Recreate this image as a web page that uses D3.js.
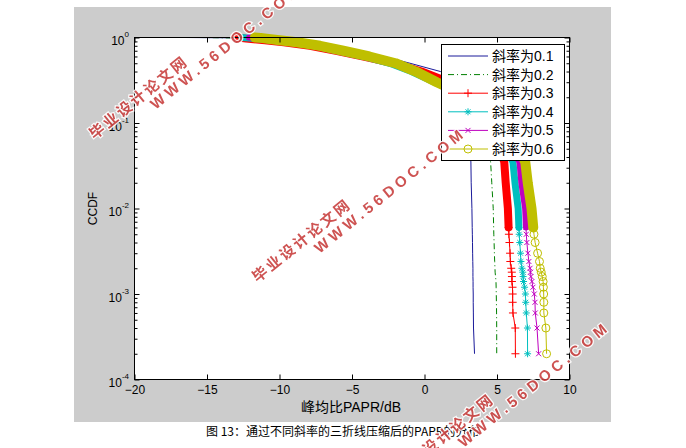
<!DOCTYPE html>
<html>
<head>
<meta charset="utf-8">
<script src="https://cdn.jsdelivr.net/npm/d3@7"></script>
<style>
  body { margin: 0; background: #fff; }
  svg { display: block; }
</style>
</head>
<body>
<div id="chart"></div>
<script>
// CCDF levels shared by every curve (the tail is k/5000)
const ccdfLevels = [1, 0.99, 0.97, 0.93, 0.88, 0.8, 0.7, 0.6, 0.5, 0.4, 0.3, 0.2, 0.1, 0.05, 0.035,
  0.02, 0.01, 0.006, 0.005, 0.004, 0.003, 0.0024, 0.002, 0.0018, 0.0016, 0.0014, 0.0012,
  0.001, 0.0008, 0.0006, 0.0004, 0.0002];

// PAPR (dB) at each CCDF level, one array per slope
const paprSlope01 = [-16.5, -13.0, -11.5, -10.0, -8.7, -7.0, -5.0, -2.8, -1.0, 1.1, 2.0, 2.6, 3.0, 3.12, 3.2,
  3.22, 3.27, 3.29, 3.3, 3.31, 3.32, 3.33, 3.34, 3.34, 3.34, 3.35, 3.35, 3.36, 3.36, 3.37, 3.38, 3.45];
const paprSlope02 = [-15.5, -13.5, -12.3, -10.8, -9.5, -7.7, -5.9, -4.0, -2.2, -0.6, 1.3, 3.0, 4.0, 4.4, 4.56,
  4.64, 4.74, 4.77, 4.78, 4.8, 4.82, 4.84, 4.86, 4.87, 4.9, 4.93, 4.94, 4.95, 4.96, 4.97, 4.98, 4.98];
const paprSlope03 = [-12.9, -12.7, -12.3, -11.0, -9.7, -7.9, -6.1, -4.2, -2.1, -0.2, 1.7, 3.2, 4.5, 5.2, 5.5,
  5.6, 5.75, 5.8, 5.82, 5.86, 5.9, 5.92, 5.98, 6.02, 6.03, 6.03, 6.07, 6.08, 6.08, 6.1, 6.26, 6.27];
const paprSlope04 = [-12.6, -12.3, -11.6, -10.5, -9.2, -7.6, -6.0, -4.2, -2.4, -0.9, 0.7, 2.8, 4.8, 5.7, 6.1,
  6.24, 6.46, 6.51, 6.53, 6.57, 6.62, 6.65, 6.72, 6.78, 6.8, 6.83, 6.9, 6.96, 6.98, 7.02, 7.1, 7.11];
const paprSlope05 = [-12.1, -11.8, -11.2, -10.2, -9.0, -7.4, -5.8, -4.0, -2.2, -0.8, 0.8, 3.0, 5.0, 6.0, 6.55,
  6.68, 6.94, 7.0, 7.02, 7.06, 7.13, 7.2, 7.28, 7.31, 7.34, 7.41, 7.48, 7.57, 7.62, 7.64, 7.76, 7.87];
const paprSlope06 = [-11.7, -11.3, -10.9, -10.0, -8.8, -7.2, -5.6, -3.8, -2.0, -0.6, 0.85, 3.1, 5.2, 6.5, 6.95,
  7.12, 7.38, 7.5, 7.55, 7.63, 7.8, 7.93, 7.98, 8.05, 8.12, 8.18, 8.2, 8.22, 8.23, 8.23, 8.37, 8.42];

const seriesNames = ["斜率为0.1", "斜率为0.2", "斜率为0.3", "斜率为0.4", "斜率为0.5", "斜率为0.6"];
const seriesValues = [paprSlope01, paprSlope02, paprSlope03, paprSlope04, paprSlope05, paprSlope06];

// axis ticks
const xTicks = [-20, -15, -10, -5, 0, 5, 10];
const yExponents = [0, -1, -2, -3, -4];

// line styles (MATLAB default colour order)
const styles = [
  { color: "#1a1a9a", dash: null, marker: null },
  { color: "#007f00", dash: "6,3,1,3", marker: null },
  { color: "#ff0000", dash: null, marker: "+", size: 8, band: 8 },
  { color: "#00bfbf", dash: null, marker: "*", size: 7, band: 7 },
  { color: "#bf00bf", dash: null, marker: "x", size: 5, band: 6 },
  { color: "#bfbf00", dash: null, marker: "o", size: 8, band: 10 }
];

document.addEventListener("DOMContentLoaded", () => {
  const width = 686, height = 448;
  const box = { left: 134.5, right: 569.5, top: 37.5, bottom: 379.5 };
  const latin = "'Liberation Sans', Arial, sans-serif";
  const cjk = "'Liberation Sans', 'Noto Sans CJK SC', sans-serif";

  const svg = d3.select("#chart").append("svg")
    .attr("width", width)
    .attr("height", height);

  // grey figure background and white axes
  svg.append("rect").attr("x", 74).attr("y", 7).attr("width", 537).attr("height", 415)
    .attr("fill", "#cccccc");
  svg.append("rect")
    .attr("x", box.left).attr("y", box.top)
    .attr("width", box.right - box.left).attr("height", box.bottom - box.top)
    .attr("fill", "#fff");

  const x = d3.scaleLinear().domain([-20, 10]).range([box.left, box.right]);
  const y = d3.scaleLog().domain([1e-4, 1]).range([box.bottom, box.top]);

  // marker shapes
  function markerPath(type, s) {
    const h = s / 2, d = h * 0.7071;
    if (type === "+") return `M${-h},0H${h}M0,${-h}V${h}`;
    if (type === "x") return `M${-h},${-h}L${h},${h}M${-h},${h}L${h},${-h}`;
    if (type === "*") return `M${-h},0H${h}M0,${-h}V${h}M${-d},${-d}L${d},${d}M${-d},${d}L${d},${-d}`;
    return d3.symbol().type(d3.symbolCircle).size(Math.PI * h * h)();
  }

  const line = d3.line().x(d => x(d.papr)).y(d => y(d.ccdf));
  const curves = svg.append("g");

  seriesValues.forEach((vals, i) => {
    const st = styles[i];
    const pts = vals.map((v, j) => ({ papr: v, ccdf: ccdfLevels[j] }));
    const g = curves.append("g");

    g.append("path")
      .datum(pts)
      .attr("fill", "none")
      .attr("stroke", st.color)
      .attr("stroke-width", 1)
      .attr("stroke-dasharray", st.dash)
      .attr("d", line);

    if (st.marker) {
      // markers sit so close together above 6e-3 that they merge into a band
      g.append("path")
        .datum(pts.filter(p => p.ccdf >= 0.006))
        .attr("fill", "none")
        .attr("stroke", st.color)
        .attr("stroke-width", st.band)
        .attr("stroke-linecap", "round")
        .attr("stroke-linejoin", "round")
        .attr("d", line);

      g.selectAll(".mk")
        .data(pts.filter(p => p.ccdf <= 0.006))
        .join("path")
        .attr("transform", d => `translate(${x(d.papr)},${y(d.ccdf)})`)
        .attr("d", markerPath(st.marker, st.size))
        .attr("fill", "none")
        .attr("stroke", st.color)
        .attr("stroke-width", 1);
    }
  });

  // axes box
  svg.append("rect")
    .attr("x", box.left).attr("y", box.top)
    .attr("width", box.right - box.left).attr("height", box.bottom - box.top)
    .attr("fill", "none").attr("stroke", "#000").attr("stroke-width", 1);

  // x ticks (inward, bottom with labels and top without)
  const xAxis = svg.append("g")
    .attr("transform", `translate(0,${box.bottom})`)
    .call(d3.axisBottom(x).tickValues(xTicks).tickSizeInner(-5).tickSizeOuter(0).tickPadding(6));
  xAxis.select(".domain").remove();
  xAxis.selectAll("text").attr("font-family", latin).attr("font-size", 12).attr("fill", "#000");

  const xTop = svg.append("g")
    .attr("transform", `translate(0,${box.top})`)
    .call(d3.axisTop(x).tickValues(xTicks).tickSizeInner(-5).tickSizeOuter(0).tickFormat(""));
  xTop.select(".domain").remove();

  // y ticks: decades and minor 2..9 ticks on both sides
  const majors = yExponents.map(e => Math.pow(10, e));
  const minors = [];
  yExponents.slice(1).forEach(e => {
    for (let m = 2; m <= 9; m++) minors.push(m * Math.pow(10, e));
  });
  [[d3.axisLeft, box.left], [d3.axisRight, box.right]].forEach(([axisFn, pos]) => {
    const gMaj = svg.append("g").attr("transform", `translate(${pos},0)`)
      .call(axisFn(y).tickValues(majors).tickSizeInner(-5).tickSizeOuter(0).tickFormat(""));
    const gMin = svg.append("g").attr("transform", `translate(${pos},0)`)
      .call(axisFn(y).tickValues(minors).tickSizeInner(-3).tickSizeOuter(0).tickFormat(""));
    gMaj.select(".domain").remove();
    gMin.select(".domain").remove();
  });

  // y tick labels 10^n
  const yLabels = svg.append("g").attr("font-family", latin).attr("fill", "#000");
  yExponents.forEach(e => {
    const t = yLabels.append("text")
      .attr("x", 129)
      .attr("y", y(Math.pow(10, e)) + 7.5)
      .attr("text-anchor", "end")
      .attr("font-size", 12)
      .text("10");
    t.append("tspan").attr("dy", -8).attr("font-size", 8).text(String(e));
  });

  // axis titles
  svg.append("text")
    .attr("transform", `translate(97,${(box.top + box.bottom) / 2}) rotate(-90)`)
    .attr("text-anchor", "middle")
    .attr("font-family", latin).attr("font-size", 12)
    .text("CCDF");
  svg.append("text")
    .attr("x", 351).attr("y", 412)
    .attr("text-anchor", "middle")
    .attr("font-family", cjk).attr("font-size", 14)
    .text("峰均比PAPR/dB");

  // legend
  const lg = svg.append("g");
  lg.append("rect").attr("x", 441.5).attr("y", 44.5).attr("width", 123).attr("height", 116)
    .attr("fill", "#fff").attr("stroke", "#000").attr("stroke-width", 1);
  seriesNames.forEach((name, i) => {
    const st = styles[i];
    const cy = 56 + i * 18.6;
    lg.append("line").attr("x1", 448).attr("x2", 488).attr("y1", cy).attr("y2", cy)
      .attr("stroke", st.color).attr("stroke-width", 1).attr("stroke-dasharray", st.dash);
    if (st.marker) {
      lg.append("path").attr("transform", `translate(468,${cy})`)
        .attr("d", markerPath(st.marker, st.size))
        .attr("fill", "none").attr("stroke", st.color);
    }
    lg.append("text").attr("x", 492).attr("y", cy + 5)
      .attr("font-family", cjk).attr("font-size", 14).attr("fill", "#000")
      .text(name);
  });

  // caption under the figure
  svg.append("text")
    .attr("x", 206).attr("y", 436)
    .attr("font-family", "'Noto Sans CJK SC', sans-serif").attr("font-size", 12)
    .attr("fill", "#000")
    .text("图 13：通过不同斜率的三折线压缩后的PAPR的分布");

  // site watermarks
  const marks = [
    { x: 92, y: 137, text: "毕业设计论文网", len: 120 },
    { x: 153, y: 107, text: "WWW.56DOC.COM", len: 186 },
    { x: 255, y: 280, text: "毕业设计论文网", len: 120 },
    { x: 317, y: 251, text: "WWW.56DOC.COM", len: 186 },
    { x: 398, y: 475, text: "毕业设计论文网", len: 120 },
    { x: 461, y: 445, text: "WWW.56DOC.COM", len: 186 }
  ];
  const wm = svg.append("g").attr("opacity", 0.9);
  marks.forEach(m => {
    wm.append("text")
      .attr("transform", `translate(${m.x},${m.y}) rotate(-39)`)
      .attr("dominant-baseline", "middle")
      .attr("textLength", m.len).attr("lengthAdjust", "spacing")
      .attr("font-family", "'Liberation Sans', 'Noto Sans CJK SC', sans-serif")
      .attr("font-weight", "bold").attr("font-size", 15)
      .attr("fill", "#c9403f").attr("stroke", "#fff").attr("stroke-width", 2.5)
      .attr("paint-order", "stroke")
      .text(m.text);
  });
});
</script>
</body>
</html>
